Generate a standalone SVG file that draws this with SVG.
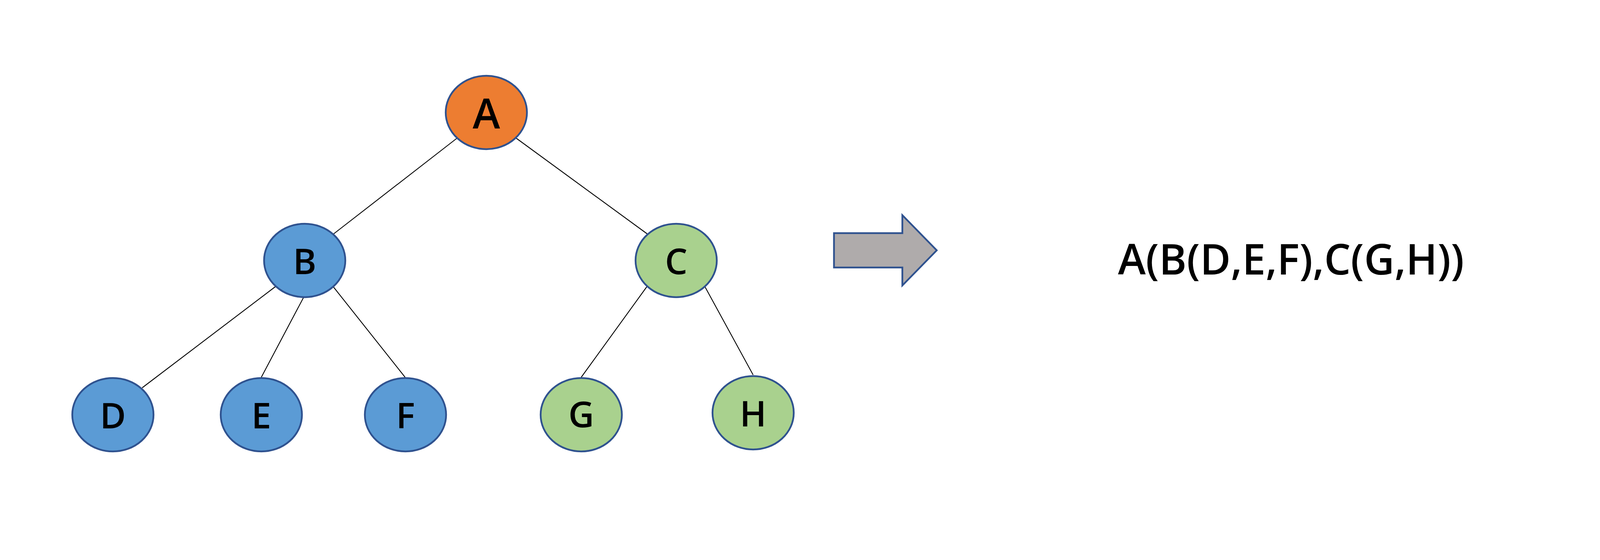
<svg xmlns="http://www.w3.org/2000/svg" width="4405" height="1434" viewBox="0 0 4405 1434">
<style>
.n{stroke:#2F528F;stroke-width:4.5}
.orange{fill:#ED7D31}
.blue{fill:#5B9BD5}
.green{fill:#A9D18E}
.lbl{font-family:"Open Sans","Liberation Sans",sans-serif;font-weight:600;font-size:91px;fill:#000;text-anchor:middle}
.edge{stroke:#000;stroke-width:2.2;fill:none}
</style>
<rect width="4405" height="1434" fill="#fff"/>
<g id="connectors">
<line class="edge" x1="1171" y1="353" x2="854" y2="599"/>
<line class="edge" x1="1319" y1="352" x2="1657" y2="599"/>
<line class="edge" x1="705" y1="734" x2="364" y2="993"/>
<line class="edge" x1="778" y1="760" x2="669" y2="966"/>
<line class="edge" x1="853" y1="734" x2="1037" y2="966"/>
<line class="edge" x1="1656" y1="734" x2="1488" y2="966"/>
<line class="edge" x1="1804" y1="733" x2="1928" y2="960"/>
</g>
<g id="node-A">
<ellipse class="n orange" cx="1245" cy="288" rx="104" ry="94"/>
<text class="lbl" x="1245" y="329" style="font-size:106px">A</text>
</g>
<g id="node-B">
<ellipse class="n blue" cx="780" cy="667" rx="104" ry="94"/>
<text class="lbl" x="780" y="702">B</text>
</g>
<g id="node-C">
<ellipse class="n green" cx="1731" cy="667" rx="104" ry="94"/>
<text class="lbl" x="1731" y="702">C</text>
</g>
<g id="node-D">
<ellipse class="n blue" cx="289" cy="1062" rx="104" ry="94"/>
<text class="lbl" x="289" y="1097">D</text>
</g>
<g id="node-E">
<ellipse class="n blue" cx="669" cy="1062" rx="104" ry="94"/>
<text class="lbl" x="669" y="1097">E</text>
</g>
<g id="node-F">
<ellipse class="n blue" cx="1038" cy="1062" rx="104" ry="94"/>
<text class="lbl" x="1038" y="1097">F</text>
</g>
<g id="node-G">
<ellipse class="n green" cx="1488" cy="1062" rx="104" ry="94"/>
<text class="lbl" x="1488" y="1094">G</text>
</g>
<g id="node-H">
<ellipse class="n green" cx="1928" cy="1057" rx="104" ry="94"/>
<text class="lbl" x="1928" y="1092">H</text>
</g>
<g id="arrow">
<polygon points="2135,597 2310,597 2310,551 2398,641 2310,731 2310,685 2135,685" fill="#AFABAB" stroke="#2F528F" stroke-width="4.5"/>
</g>
<g id="result">
<text x="2862" y="703" font-family="'Open Sans','Liberation Sans',sans-serif" font-weight="600" font-size="108" fill="#000" textLength="886" lengthAdjust="spacingAndGlyphs">A(B(D,E,F),C(G,H))</text>
</g>
</svg>
